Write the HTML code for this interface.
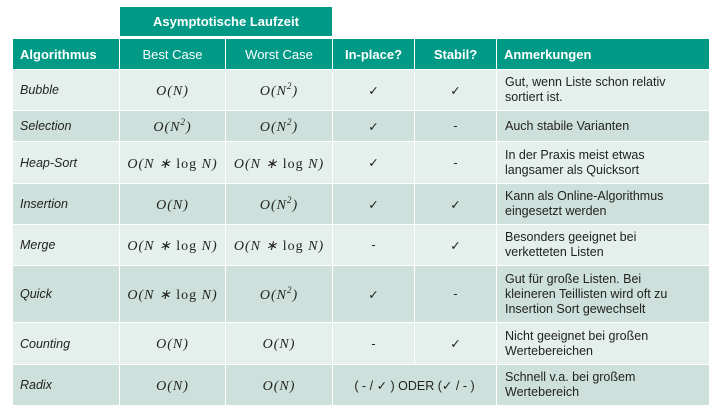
<!DOCTYPE html>
<html><head><meta charset="utf-8"><style>
body{margin:0;width:720px;height:416px;background:#fff;position:relative;overflow:hidden;font-family:"Liberation Sans",sans-serif;}
.top{position:absolute;left:120px;top:7px;width:212px;height:29px;background:#009a87;color:#fff;font-weight:bold;font-size:13px;line-height:29px;text-align:center;}
table{position:absolute;left:12px;top:38px;border-collapse:separate;border-spacing:1px;background:#fff;}
td{padding:0;font-size:12.5px;color:#222;text-align:center;vertical-align:middle;}
th{padding:0;background:#009a87;color:#fff;font-size:13px;height:30px;}
th.l{text-align:left;padding-left:7px;font-weight:bold;}
th.n{font-weight:normal;}
td.a{text-align:left;padding-left:7px;font-style:italic;}
td.r{text-align:left;padding-left:8px;line-height:15px;}
tr.o td{background:#e5efec;}
tr.e td{background:#cde0db;}
.m{font-family:"Liberation Serif",serif;font-style:italic;font-size:14px;letter-spacing:1px;padding-top:3px;}
.m .u{font-style:normal;}
sup{font-size:9px;line-height:0;vertical-align:0;position:relative;top:-6px;}
</style></head><body>
<div class="top">Asymptotische Laufzeit</div>
<table>
<colgroup><col style="width:106px"><col style="width:105px"><col style="width:106px"><col style="width:81px"><col style="width:81px"><col style="width:212px"></colgroup>
<tr><th class="l" style="width:99px">Algorithmus</th><th class="n">Best Case</th><th class="n">Worst Case</th><th>In-place?</th><th>Stabil?</th><th class="l" style="width:205px">Anmerkungen</th></tr>
<tr class="o" style="height:40px"><td class="a">Bubble</td><td class="m">O(N)</td><td class="m">O(N<sup>2</sup>)</td><td>✓</td><td>✓</td><td class="r">Gut, wenn Liste schon relativ<br>sortiert ist.</td></tr>
<tr class="e" style="height:30px"><td class="a">Selection</td><td class="m">O(N<sup>2</sup>)</td><td class="m">O(N<sup>2</sup>)</td><td>✓</td><td>-</td><td class="r">Auch stabile Varianten</td></tr>
<tr class="o" style="height:41px"><td class="a">Heap-Sort</td><td class="m">O(N ∗ <span class="u">log</span> N)</td><td class="m">O(N ∗ <span class="u">log</span> N)</td><td>✓</td><td>-</td><td class="r">In der Praxis meist etwas<br>langsamer als Quicksort</td></tr>
<tr class="e" style="height:40px"><td class="a">Insertion</td><td class="m">O(N)</td><td class="m">O(N<sup>2</sup>)</td><td>✓</td><td>✓</td><td class="r">Kann als Online-Algorithmus<br>eingesetzt werden</td></tr>
<tr class="o" style="height:40px"><td class="a">Merge</td><td class="m">O(N ∗ <span class="u">log</span> N)</td><td class="m">O(N ∗ <span class="u">log</span> N)</td><td>-</td><td>✓</td><td class="r">Besonders geeignet bei<br>verketteten Listen</td></tr>
<tr class="e" style="height:56px"><td class="a">Quick</td><td class="m">O(N ∗ <span class="u">log</span> N)</td><td class="m">O(N<sup>2</sup>)</td><td>✓</td><td>-</td><td class="r">Gut für große Listen. Bei<br>kleineren Teillisten wird oft zu<br>Insertion Sort gewechselt</td></tr>
<tr class="o" style="height:41px"><td class="a">Counting</td><td class="m">O(N)</td><td class="m">O(N)</td><td>-</td><td>✓</td><td class="r">Nicht geeignet bei großen<br>Wertebereichen</td></tr>
<tr class="e" style="height:40px"><td class="a">Radix</td><td class="m">O(N)</td><td class="m">O(N)</td><td colspan="2">( - / ✓ ) ODER (✓ / - )</td><td class="r">Schnell v.a. bei großem<br>Wertebereich</td></tr>
</table>
</body></html>
